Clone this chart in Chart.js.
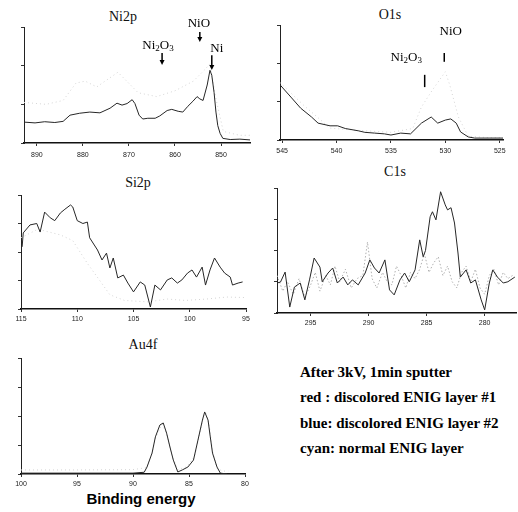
<!DOCTYPE html>
<html><head><meta charset="utf-8">
<script src="https://cdn.jsdelivr.net/npm/chart.js@4/dist/chart.umd.min.js"></script>
<style>
html,body{margin:0;padding:0;background:#fff;}
#wrap{position:relative;width:518px;height:512px;overflow:hidden;background:#fff;}
canvas{position:absolute;}
.t{position:absolute;font-family:"Liberation Serif","Times New Roman",serif;font-size:14px;color:#111;transform:translate(-50%,-50%);white-space:nowrap;}
.leg{position:absolute;left:300px;font-family:"Liberation Serif","Times New Roman",serif;font-weight:bold;font-size:15px;color:#000;transform:translateY(-50%);white-space:nowrap;}
.be{position:absolute;font-family:"Liberation Sans",Arial,sans-serif;font-weight:bold;font-size:15px;color:#000;transform:translate(-50%,-50%);white-space:nowrap;}
</style></head>
<body><div id="wrap">
<div class="t" style="left:123px;top:17px">Ni2p</div>
<div class="t" style="left:390px;top:15px">O1s</div>
<div class="t" style="left:138px;top:183px">Si2p</div>
<div class="t" style="left:395px;top:172px">C1s</div>
<div class="t" style="left:143px;top:345px">Au4f</div>
<div class="be" style="left:141px;top:498px">Binding energy</div>
<div class="leg" style="top:372px">After 3kV, 1min sputter</div>
<div class="leg" style="top:397px">red : discolored ENIG layer #1</div>
<div class="leg" style="top:423px">blue: discolored ENIG layer #2</div>
<div class="leg" style="top:448px">cyan: normal ENIG layer</div>
</div>
<script>
// ---------- tick labels ----------
const niTicks = [890, 880, 870, 860, 850];
const oTicks = [545, 540, 535, 530, 525];
const siTicks = [115, 110, 105, 100, 95];
const cTicks = [295, 290, 285, 280];
const auTicks = [100, 95, 90, 85, 80];

// ---------- Ni2p ----------
const niE = [892.8,890.4,888.3,886.1,884.3,882.8,880.7,878.5,876.3,874.1,872.6,871.5,870.4,869.3,868.7,867.8,867.0,865.9,864.3,863.3,861.7,860.7,859.3,858.3,857.2,856.1,855.2,854.6,853.9,853.0,852.4,852.0,851.5,851.1,850.7,850.2,849.6,848.0,845.9,843.7];
const niDark = [0.54,0.52,0.55,0.53,0.56,0.72,0.77,0.80,0.78,0.90,1.03,0.98,1.02,1.12,1.02,0.72,0.62,0.64,0.64,0.70,0.84,0.87,0.82,0.80,0.95,1.08,1.20,1.14,1.10,1.50,1.88,1.75,1.30,0.80,0.45,0.25,0.12,0.09,0.10,0.08];
const niLightE = [892.8,888,884.3,881.5,879.5,877,872.4,868,864,860,856,853.5,852.4,851.2,849.5,846,843.7];
const niLight = [1.05,1.0,1.1,1.55,1.6,1.45,1.83,1.3,1.2,1.35,1.6,1.9,2.05,1.2,0.3,0.2,0.2];

// ---------- O1s ----------
const oE = [545.2,544.2,543.3,542.3,541.7,540.6,539.9,539.2,538.0,537.4,536.5,535.6,535.0,534.1,533.2,532.2,531.3,530.7,530.0,529.5,529.0,528.6,527.9,527.3,525.9,524.7];
const oDark = [1.44,1.12,0.83,0.60,0.44,0.37,0.37,0.30,0.24,0.20,0.18,0.16,0.13,0.18,0.16,0.44,0.60,0.44,0.52,0.55,0.44,0.21,0.08,0.05,0.05,0.05];
const oLightE = [545.2,543,540.6,538,535,533,532.2,531.2,530.0,529.6,528.8,527.9,526,524.7];
const oLight = [1.5,0.9,0.31,0.25,0.2,0.3,0.86,1.3,1.78,1.44,0.6,0.1,0.06,0.06];

// ---------- Si2p ----------
const siE = [114.9,114.8,114.2,113.6,113.3,112.9,112.4,112.0,111.5,111.1,110.6,110.4,110.0,109.5,109.1,108.9,108.2,107.8,107.4,107.1,106.8,106.4,105.9,105.5,105.0,104.4,104.0,103.5,103.1,102.6,102.0,101.6,101.1,100.7,100.2,99.8,99.4,98.9,98.6,98.2,97.8,97.3,96.9,96.4,96.2,95.7,95.3];
const siDark = [2.18,2.67,2.95,3.0,2.7,3.4,3.2,3.1,3.37,3.5,3.65,3.58,3.1,3.0,3.05,2.5,2.07,1.72,1.96,1.44,1.79,1.09,1.19,0.91,0.6,0.95,0.84,0.07,0.84,0.67,1.02,1.09,0.91,1.02,1.26,1.37,1.12,1.47,0.84,1.37,1.79,1.47,1.26,1.12,0.84,0.91,0.95];
const siLightE = [115,113.5,111.5,110.4,109.1,108,107.1,105.8,103.7,102,100.4,98.5,96.7,95];
const siLight = [2.5,2.8,2.6,2.4,1.6,1.0,0.5,0.3,0.25,0.35,0.3,0.35,0.42,0.4];

// ---------- C1s ----------
const cE = [297.9,297.6,297.2,296.8,296.4,295.9,295.5,295.1,294.7,294.2,294.0,293.5,293.1,292.7,292.2,291.8,291.4,290.9,290.3,289.9,289.5,289.1,288.6,288.2,287.8,287.3,286.9,286.5,286.0,285.6,285.3,285.1,284.7,284.5,284.2,283.8,283.4,283.2,282.9,282.6,282.3,282.1,281.6,281.2,280.8,280.3,280.0,279.6,279.3,278.9,278.4,278.0,277.4];
const cDark = [0.96,0.99,1.31,0.19,0.83,0.96,0.42,1.06,1.76,1.47,1.0,1.28,1.44,0.96,1.15,0.9,1.06,0.9,1.28,1.7,1.44,1.28,1.7,0.74,0.58,1.06,1.28,1.0,1.38,2.34,1.8,2.0,3.08,3.24,2.98,3.88,3.46,3.3,3.37,2.88,1.92,1.15,1.38,0.96,1.06,0.42,0.1,0.96,1.38,1.15,0.96,1.0,1.15];
const cGrayE = [297.9,297.4,297,296.5,296,295.5,295,294.6,294.2,293.7,293.3,292.9,292.5,292,291.5,291,290.5,290.1,289.7,289.3,288.8,288.4,288,287.6,287.2,286.8,286.4,286,285.6,285.2,284.8,284.4,284,283.6,283.2,282.8,282.4,282,281.6,281.2,280.8,280.4,280,279.6,279.2,278.8,278.4,278,277.6];
const cGray = [1.2,0.7,1.0,0.6,1.1,0.5,0.9,1.3,0.7,1.2,0.9,1.5,1.0,1.4,0.8,1.1,1.2,2.27,1.1,0.8,1.3,1.0,0.9,1.5,1.2,0.8,1.3,1.1,1.4,1.9,1.3,1.6,1.8,1.2,1.5,1.0,0.8,1.3,1.5,1.0,1.4,0.8,0.6,1.2,1.4,0.9,1.3,1.1,1.2];

// ---------- Au4f ----------
const auE = [100,95,90,89,88.75,88.3,88.0,87.6,87.3,87.0,86.7,86.4,86.0,85.6,85.1,84.6,84.2,83.8,83.6,83.3,83.1,82.9,82.5,82.2,81.6];
const auDark = [0.03,0.03,0.03,0.06,0.24,0.72,1.28,1.69,1.76,1.41,0.93,0.48,0.07,0.14,0.24,0.48,1.17,1.86,2.14,1.86,1.28,0.72,0.24,0.03,0.0];
const auLightE = [100,95,90,88.8,88.3,88.0,87.4,87.0,86.5,86.0,85.2,84.5,84.1,83.7,83.5,83.2,82.9,82.5,82.0,81.5];
const auLight = [0.14,0.14,0.15,0.22,0.7,1.25,1.72,1.4,0.6,0.15,0.25,0.6,1.3,2.0,2.1,1.7,0.8,0.2,0.1,0.1];

// ---------- helpers ----------
const wrap = document.getElementById('wrap');
const pts = (xs, ys) => xs.map((x, i) => ({x: x, y: ys[i]}));
const dark = (xs, ys) => ({data: pts(xs, ys), borderColor: '#262626', borderWidth: 1, order: 1});
const light = (xs, ys) => ({data: pts(xs, ys), borderColor: '#d4d4d4', borderWidth: 1, borderDash: [1, 3], order: 3});
const gray = (xs, ys) => ({data: pts(xs, ys), borderColor: '#b0b0b0', borderWidth: 1, borderDash: [1.5, 2], order: 2});

function drawRich(ctx, cx, cy, parts) {
  const big = '13px "Liberation Serif", serif', small = '9px "Liberation Serif", serif';
  let w = 0;
  parts.forEach(p => { ctx.font = p[1] ? small : big; w += ctx.measureText(p[0]).width; });
  let x = cx - w / 2;
  ctx.fillStyle = '#000';
  ctx.textBaseline = 'middle';
  ctx.textAlign = 'left';
  parts.forEach(p => {
    ctx.font = p[1] ? small : big;
    ctx.fillText(p[0], x, cy + (p[1] ? 3 : 0));
    x += ctx.measureText(p[0]).width;
  });
}

function annotPlugin(items) {
  return {
    id: 'annot',
    afterDatasetsDraw(chart) {
      const ctx = chart.ctx, xs = chart.scales.x, ys = chart.scales.y;
      ctx.save();
      (items || []).forEach(a => {
        if (a.type === 'text') {
          drawRich(ctx, xs.getPixelForValue(a.x), ys.getPixelForValue(a.y), a.parts);
        } else {
          const x = xs.getPixelForValue(a.x), y1 = ys.getPixelForValue(a.y1), y2 = ys.getPixelForValue(a.y2);
          ctx.strokeStyle = '#000'; ctx.lineWidth = 1.5;
          ctx.beginPath(); ctx.moveTo(x, y1); ctx.lineTo(x, a.type === 'arrow' ? y2 - 4 : y2); ctx.stroke();
          if (a.type === 'arrow') {
            ctx.fillStyle = '#000';
            ctx.beginPath(); ctx.moveTo(x - 2.5, y2 - 5); ctx.lineTo(x + 2.5, y2 - 5); ctx.lineTo(x, y2); ctx.closePath(); ctx.fill();
          }
        }
      });
      ctx.restore();
    }
  };
}

function makePanel(cfg) {
  const PL = 16, PR = 12, YW = 4, PB = 18;
  const PT = cfg.pt || 4;
  const w = cfg.r - cfg.l + PL + PR, h = cfg.b - cfg.t + PT + PB;
  const c = document.createElement('canvas');
  c.width = w; c.height = h;
  c.style.left = (cfg.l - PL) + 'px'; c.style.top = (cfg.t - PT) + 'px';
  c.style.width = w + 'px'; c.style.height = h + 'px';
  wrap.appendChild(c);
  const yt = [];
  for (let v = 0; v <= cfg.ymax; v++) yt.push({value: v});
  new Chart(c, {
    type: 'line',
    data: {datasets: cfg.datasets},
    options: {
      responsive: false, animation: false, devicePixelRatio: 1,
      layout: {padding: {left: PL - YW, right: PR, top: PT, bottom: 0}},
      plugins: {legend: {display: false}, tooltip: {enabled: false}, title: {display: false}},
      elements: {point: {radius: 0}, line: {tension: 0}},
      scales: {
        x: {
          type: 'linear', reverse: true, min: cfg.xmin, max: cfg.xmax,
          afterBuildTicks: s => { s.ticks = cfg.ticks.map(v => ({value: v})); },
          afterFit: s => { s.height = PB; },
          grid: {display: true, drawOnChartArea: false, drawTicks: true, tickLength: 3, color: '#333'},
          border: {display: true, color: '#111', width: 1.6},
          ticks: {font: {size: 7, family: '"Liberation Sans", Arial, sans-serif'}, color: '#222', padding: cfg.tickPad || 3, maxRotation: 0, autoSkip: false}
        },
        y: {
          type: 'linear', min: 0, max: cfg.ymax,
          afterBuildTicks: s => { s.ticks = yt.slice(); },
          afterFit: s => { s.width = YW; },
          grid: {display: true, drawOnChartArea: false, drawTicks: true, tickLength: 3, color: '#333'},
          border: {display: true, color: '#222', width: 1, dash: cfg.ydash || []},
          ticks: {display: false}
        }
      }
    },
    plugins: [annotPlugin(cfg.annots)]
  });
}

makePanel({l: 24, t: 27, r: 250, b: 143, xmin: 843.7, xmax: 892.8, ymax: 3, ticks: niTicks, tickPad: 5, pt: 18, ydash: [1.5, 1.5],
  datasets: [light(niLightE, niLight), dark(niE, niDark)],
  annots: [
    {type: 'text', x: 863.7, y: 2.53, parts: [['Ni', 0], ['2', 1], ['O', 0], ['3', 1]]},
    {type: 'arrow', x: 862.8, y1: 2.33, y2: 2.02},
    {type: 'text', x: 854.8, y: 3.1, parts: [['NiO', 0]]},
    {type: 'arrow', x: 854.6, y1: 2.87, y2: 2.61},
    {type: 'text', x: 850.9, y: 2.45, parts: [['Ni', 0]]},
    {type: 'arrow', x: 852.0, y1: 2.27, y2: 1.89}
  ]});

makePanel({l: 280, t: 25, r: 503, b: 140, xmin: 524.7, xmax: 545.2, ymax: 3, ticks: oTicks, tickPad: 4,
  datasets: [light(oLightE, oLight), dark(oE, oDark)],
  annots: [
    {type: 'text', x: 533.6, y: 2.14, parts: [['Ni', 0], ['2', 1], ['O', 0], ['3', 1]]},
    {type: 'bar', x: 531.9, y1: 1.70, y2: 1.38},
    {type: 'text', x: 529.5, y: 2.82, parts: [['NiO', 0]]},
    {type: 'bar', x: 530.1, y1: 2.27, y2: 2.04}
  ]});

makePanel({l: 21, t: 195, r: 246, b: 309, xmin: 95, xmax: 115, ymax: 4, ticks: siTicks, tickPad: 3,
  datasets: [light(siLightE, siLight), dark(siE, siDark)]});

makePanel({l: 277, t: 188, r: 516, b: 313, xmin: 277.3, xmax: 297.9, ymax: 4, ticks: cTicks, tickPad: 3,
  datasets: [gray(cGrayE, cGray), dark(cE, cDark)]});

makePanel({l: 21, t: 358, r: 245, b: 474, xmin: 80, xmax: 100, ymax: 4, ticks: auTicks, tickPad: 3,
  datasets: [light(auLightE, auLight), dark(auE, auDark)]});
</script>
</body></html>
